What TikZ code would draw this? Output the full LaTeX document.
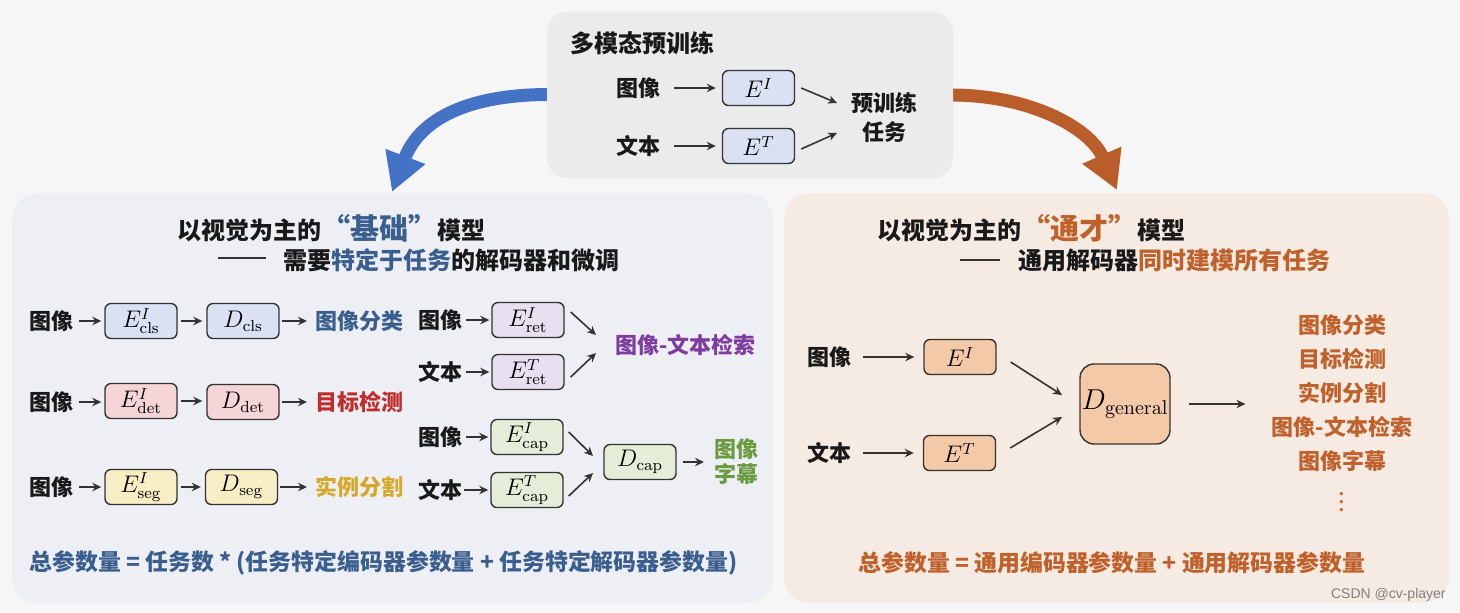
\documentclass[tikz,border=0pt]{standalone}
\usepackage[no-math]{fontspec}
\setmainfont{Noto Sans CJK SC}
\newfontfamily\wmfont{Liberation Sans}
\usetikzlibrary{arrows.meta,calc}
\definecolor{bg}{HTML}{F6F6F6}
\definecolor{topbg}{HTML}{EBEBEB}
\definecolor{leftbg}{HTML}{EDEFF4}
\definecolor{rightbg}{HTML}{F6EBE3}
\definecolor{cblue}{HTML}{D9E1F2}
\definecolor{cpink}{HTML}{F5D5D8}
\definecolor{cyel}{HTML}{F8EEC5}
\definecolor{clav}{HTML}{E8DFF0}
\definecolor{cgrn}{HTML}{E3EDD7}
\definecolor{cpeach}{HTML}{F3C9A8}
\definecolor{cblueT}{HTML}{3A5F8E}
\definecolor{credT}{HTML}{C02B2B}
\definecolor{cgoldT}{HTML}{D6A829}
\definecolor{cpurpleT}{HTML}{7D3C9E}
\definecolor{cgreenT}{HTML}{6B9B40}
\definecolor{corangeT}{HTML}{C0602A}
\definecolor{bigblue}{HTML}{4472C4}
\definecolor{bigorange}{HTML}{B95E2A}
\definecolor{ink}{HTML}{333333}
\begin{document}
\begin{tikzpicture}[x=0.5pt,y=-0.5pt,
  lab/.style={font=\fontsize{11}{13}\selectfont\bfseries, inner sep=1pt, text=black!90},
  ttl/.style={font=\fontsize{12}{14}\selectfont\bfseries, inner sep=0pt, text=black!90},
  sumtxt/.style={font=\fontsize{11.45}{13}\selectfont\bfseries, inner sep=0pt},
  encbox/.style={draw=ink, line width=0.7pt, rounded corners=3pt, minimum width=36pt,
    minimum height=17.5pt, inner sep=0pt, font=\fontsize{12}{14}\selectfont},
  arr/.style={draw=ink, line width=0.8pt, -{Stealth[length=4.5pt,width=4.2pt]}},
  bigarr/.style={line width=6.5pt, -{Triangle[length=19pt,width=20pt]}}
]
\useasboundingbox (0,0) rectangle (1460,612);
\fill[bg] (0,0) rectangle (1460,612);

% big curved arrows
\draw[bigarr, bigblue] (549,94.5) .. controls (470,94.5) and (420,118) .. (392,192);
\draw[bigarr, bigorange] (951,95) .. controls (1030,95) and (1090,128) .. (1117,190);

% panels
\fill[topbg, rounded corners=10pt] (547,12) rectangle (953,178);
\fill[leftbg, rounded corners=13pt] (12,193) rectangle (773,603);
\fill[rightbg, rounded corners=13pt] (784,193) rectangle (1449,603);

% ---------- top box ----------
\node[ttl, anchor=west] (tTitle) at (570,43) {多模态预训练};
\node[lab] (tImg) at (638,88) {图像};
\node[encbox, fill=cblue] (tEI) at (758.5,88) {$E^{I}$};
\node[lab] (tTxt) at (638,146) {文本};
\node[encbox, fill=cblue] (tET) at (758.5,146) {$E^{T}$};
\node[lab, align=center, font=\fontsize{11}{14.5}\selectfont\bfseries] (tTask) at (884,117) {预训练\\任务};
\coordinate (tA) at (837,103);
\coordinate (tB) at (837,133);
\draw[arr, shorten <=6pt, shorten >=3pt] (tImg) -- (tEI);
\draw[arr, shorten <=6pt, shorten >=3pt] (tTxt) -- (tET);
\draw[arr] ([xshift=3pt]tEI.east) -- (tA);
\draw[arr] ([xshift=3pt,yshift=-1.5pt]tET.east) -- (tB);

% ---------- left panel ----------
\node[ttl, anchor=west] (lTitle) at (177,228) {以视觉为主的{\color{cblueT}\fontsize{14.5}{16}\selectfont “基础”}模型};
\draw[ink, line width=0.8pt] (218,258) -- (266,258);
\node[ttl, anchor=west] (lSub) at (283,260) {需要{\color{cblueT}特定于任务}的解码器和微调};

% row 1
\node[lab] (l1img) at (51,321) {图像};
\node[encbox, fill=cblue] (ecls) at (141,321) {$E^{I}_{\mathrm{cls}}$};
\node[encbox, fill=cblue] (dcls) at (243,321) {$D_{\mathrm{cls}}$};
\node[lab, anchor=west, text=cblueT] (tcls) at (313,321) {图像分类};
\draw[arr, shorten <=2pt, shorten >=1.5pt] (l1img) -- (ecls);
\draw[arr, shorten <=1.5pt, shorten >=2pt] (ecls) -- (dcls);
\draw[arr, shorten <=1pt, shorten >=3pt] (dcls) -- (tcls);

% row 2
\node[lab] (l2img) at (51,402) {图像};
\node[encbox, fill=cpink] (edet) at (141,401) {$E^{I}_{\mathrm{det}}$};
\node[encbox, fill=cpink] (ddet) at (243,402) {$D_{\mathrm{det}}$};
\node[lab, anchor=west, text=credT] (tdet) at (313,402) {目标检测};
\draw[arr, shorten <=2pt, shorten >=1.5pt] (l2img) -- (l2img -| edet.west);
\draw[arr, shorten <=1.5pt, shorten >=2pt] (edet.east) -- (edet.east -| ddet.west);
\draw[arr, shorten <=1pt, shorten >=3pt] (ddet) -- (tdet);

% row 3
\node[lab] (l3img) at (51,487) {图像};
\node[encbox, fill=cyel] (eseg) at (141,487) {$E^{I}_{\mathrm{seg}}$};
\node[encbox, fill=cyel] (dseg) at (241.5,487) {$D_{\mathrm{seg}}$};
\node[lab, anchor=west, text=cgoldT] (tseg) at (313,487) {实例分割};
\draw[arr, shorten <=2pt, shorten >=1.5pt] (l3img) -- (eseg);
\draw[arr, shorten <=1.5pt, shorten >=2pt] (eseg) -- (dseg);
\draw[arr, shorten <=1pt, shorten >=3pt] (dseg) -- (tseg);

% retrieval
\node[lab] (mImg1) at (440,320) {图像};
\node[encbox, fill=clav] (eretI) at (528,320) {$E^{I}_{\mathrm{ret}}$};
\node[lab] (mTxt1) at (440,372) {文本};
\node[encbox, fill=clav] (eretT) at (528,372) {$E^{T}_{\mathrm{ret}}$};
\node[lab, anchor=west, text=cpurpleT] (tret) at (613,345) {图像-文本检索};
\coordinate (retA) at (596,335);
\coordinate (retB) at (596,353);
\draw[arr, shorten <=1pt, shorten >=1pt] (mImg1) -- (eretI);
\draw[arr, shorten <=1pt, shorten >=1pt] (mTxt1) -- (eretT);
\draw[arr] ([shift={(6,-8)}]eretI.east) -- (retA);
\draw[arr] ([shift={(6,5)}]eretT.east) -- (retB);

% captioning
\node[lab] (mImg2) at (440,437) {图像};
\node[encbox, fill=cgrn] (ecapI) at (527,437) {$E^{I}_{\mathrm{cap}}$};
\node[lab] (mTxt2) at (440,490) {文本};
\node[encbox, fill=cgrn] (ecapT) at (527,490) {$E^{T}_{\mathrm{cap}}$};
\node[encbox, fill=cgrn] (dcap) at (640,462) {$D_{\mathrm{cap}}$};
\node[lab, anchor=west, align=center, text=cgreenT, font=\fontsize{11}{12.5}\selectfont\bfseries] (tcap) at (712,462) {图像\\字幕};
\coordinate (capA) at (593,456);
\coordinate (capB) at (593,473);
\draw[arr, shorten <=1pt, shorten >=1pt] (mImg2) -- (ecapI);
\draw[arr, shorten <=0pt, shorten >=1pt] (mTxt2) -- (ecapT);
\draw[arr] ([shift={(5,-5)}]ecapI.east) -- (capA);
\draw[arr] ([shift={(5,6)}]ecapT.east) -- (capB);
\draw[arr, shorten <=3pt, shorten >=4pt] (dcap) -- (tcap);

\node[sumtxt, anchor=west, text=cblueT] (lSum) at (29,563) {总参数量 = 任务数 * (任务特定编码器参数量 + 任务特定解码器参数量)};

% ---------- right panel ----------
\node[ttl, anchor=west] (rTitle) at (877,228) {以视觉为主的{\color{corangeT}\fontsize{14.5}{16}\selectfont “通才”}模型};
\draw[ink, line width=0.8pt] (960,260) -- (1000,260);
\node[ttl, anchor=west] (rSub) at (1018,260) {通用解码器{\color{corangeT}同时建模所有任务}};

\node[lab] (rImg) at (829,357) {图像};
\node[encbox, fill=cpeach] (rEI) at (960,357) {$E^{I}$};
\node[lab] (rTxt) at (829,453) {文本};
\node[encbox, fill=cpeach] (rET) at (959.5,453) {$E^{T}$};
\node[encbox, fill=cpeach, minimum width=45pt, minimum height=40pt, rounded corners=7pt,
  font=\fontsize{14}{16}\selectfont] (dgen) at (1125,404) {$D_{\mathrm{general}}$};
\node[lab, align=center, text=corangeT, font=\fontsize{11}{17}\selectfont\bfseries] (tasks) at (1342,393)
  {图像分类\\目标检测\\实例分割\\图像-文本检索\\图像字幕};
\node[inner sep=0pt, text=corangeT, font=\fontsize{12}{14}\selectfont] (tdots) at (1342,496) {$\vdots$};
\coordinate (gA) at (1062,395);
\coordinate (gB) at (1062,417);
\draw[arr, shorten <=5pt, shorten >=4.5pt] (rImg) -- (rEI);
\draw[arr, shorten <=5pt, shorten >=4.5pt] (rTxt) -- (rET);
\draw[arr] ([shift={(14,5)}]rEI.east) -- (gA);
\draw[arr] ([shift={(14,-5)}]rET.east) -- (gB);
\draw[arr, shorten <=9pt, shorten >=12pt] (dgen.east) -- (dgen.east -| tasks.west);

\node[sumtxt, anchor=west, text=corangeT] (rSum) at (858,563) {总参数量 = 通用编码器参数量 + 通用解码器参数量};

\node[anchor=east, inner sep=0pt, text=black!50, font=\wmfont\fontsize{7}{8}\selectfont] (wm) at (1446,595) {CSDN @cv-player};
\end{tikzpicture}
\end{document}
